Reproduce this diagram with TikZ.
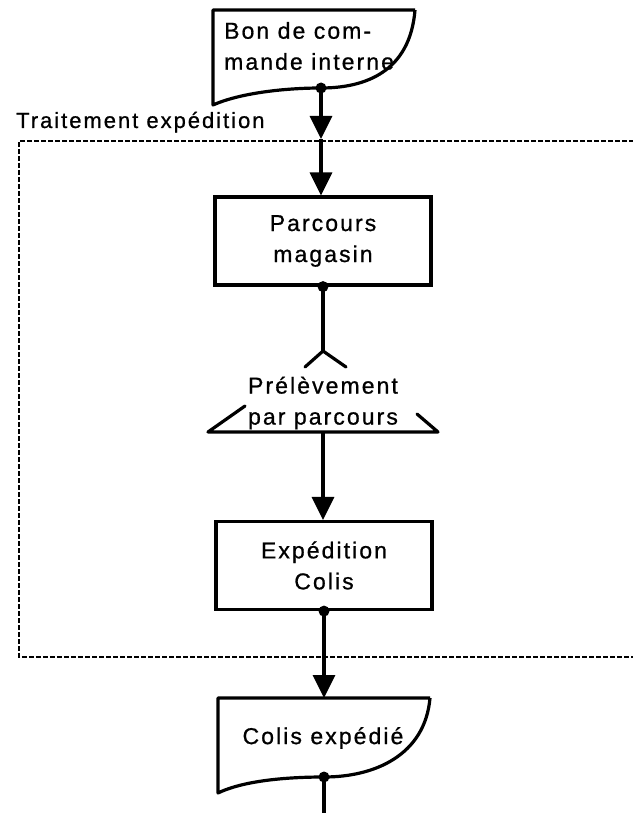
\documentclass[tikz,border=0pt]{standalone}
\usepackage{fontspec}
\setmainfont{Liberation Sans}[LetterSpace=9, FakeBold=0.8]
\usetikzlibrary{arrows.meta,calc}

\begin{document}
\begin{tikzpicture}[x=1pt,y=-1pt,
  every node/.style={font=\fontsize{23}{31}\selectfont, inner sep=0pt},
  proc/.style={draw, line width=3.2pt, minimum width=216pt, minimum height=88pt, align=center},
  doc/.style={draw, line width=3.2pt, line join=round},
  flow/.style={line width=3.2pt},
  tip/.style={-{Triangle[width=22pt,length=23pt]}},
  frame/.style={line width=2.8pt, dash pattern=on 5pt off 2pt},
  wing/.style={line width=3.2pt, line cap=round, line join=round}
]
\useasboundingbox (0,0) rectangle (632,813);

% Dashed frame of the process (open on the right)
\coordinate (fr-tr) at (634,141);
\coordinate (fr-br) at (634,657);
\draw[frame] (fr-tr) -| (19,657) -- (fr-br);
\node[anchor=base west, font=\fontsize{22}{26}\selectfont] (frame-label) at (16,128) {Traitement expédition};

% Input document
\coordinate (bon-tl) at (213,10);
\coordinate (bon-tr) at (415,10);
\coordinate (bon-bl) at (213,105);
\coordinate (bon-out) at (321,88);
\draw[doc] (bon-tr) -- (bon-tl) -- (bon-bl)
  .. controls (240,93) and (285,88) .. (bon-out)
  .. controls (365,88) and (410,72) .. (bon-tr);
\node[anchor=west, align=left] (bon) at (224,46) {Bon de com-\\mande interne};

% Process boxes
\node[proc] (parcours) at (323,241) {Parcours\\magasin};
\node[proc] (expe) at (324,565.5) {Expédition\\Colis};

% Selection rule
\coordinate (fork) at (323,351);
\coordinate (rule-l) at (208,432);
\coordinate (rule-r) at (438,432);
\coordinate (rule-out) at (323,432);
\node[align=center] (prelev) at (323,403) {Prélèvement\\par parcours};
\draw[wing] (245,406) -- (rule-l) -- (rule-r) -- (417,414);
\draw[wing] ($(fork)+(-18,16)$) -- (fork) -- ($(fork)+(23,16)$);

% Output document
\coordinate (colis-tl) at (218,698);
\coordinate (colis-tr) at (430,698);
\coordinate (colis-bl) at (218,793);
\coordinate (colis-out) at (324,777);
\draw[doc] (colis-tr) -- (colis-tl) -- (colis-bl)
  .. controls (245,780) and (290,777) .. (colis-out)
  .. controls (375,777) and (425,755) .. (colis-tr);
\node (colis) at (323,738) {Colis expédié};
\coordinate (colis-end) at (324,815);

% Connectors
\coordinate (entry) at (321,139);
\draw[flow, tip] (bon-out) -- (entry);
\draw[flow, tip] (entry) -- (entry |- parcours.north);
\draw[flow] (parcours.south) -- (fork);
\draw[flow, tip] (rule-out) -- (expe.north -| rule-out);
\draw[flow, tip] (expe.south) -- (colis-tl -| expe.south);
\draw[flow] (colis-out) -- (colis-end);

% Junction dots
\fill (bon-out) circle (5.5pt);
\fill (parcours.south) circle (5.5pt);
\fill (expe.south) circle (5.5pt);
\fill (colis-out) circle (5.5pt);
\end{tikzpicture}
\end{document}
